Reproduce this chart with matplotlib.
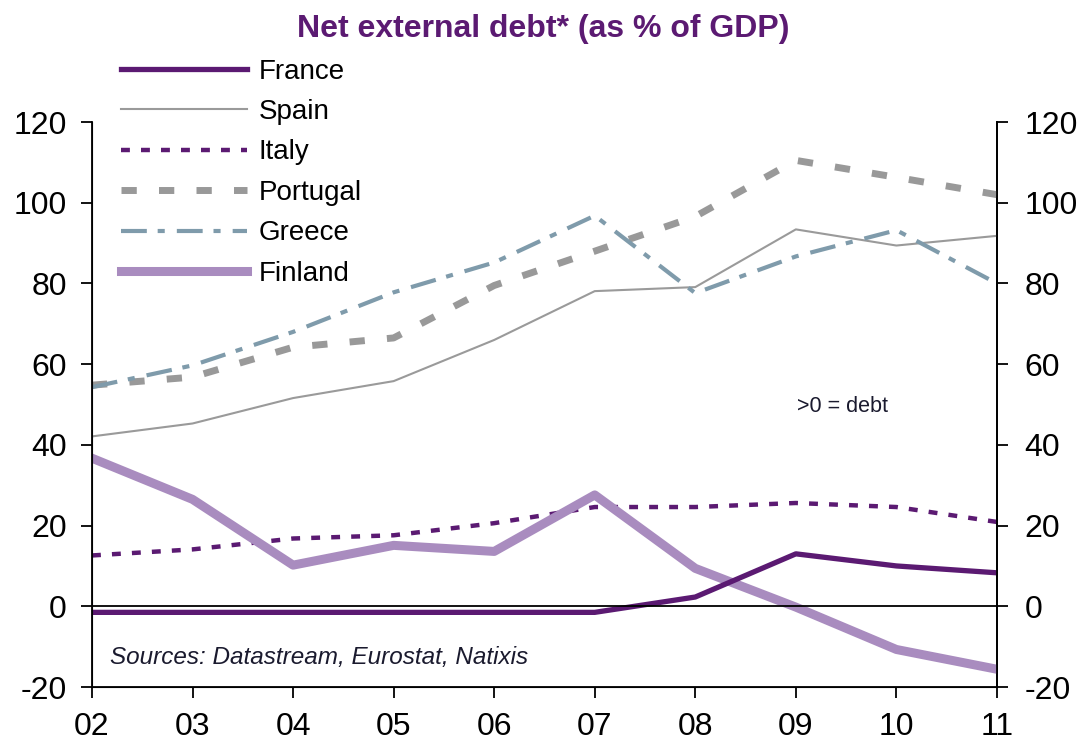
import matplotlib
matplotlib.use('Agg')
import matplotlib.pyplot as plt
import numpy as np

plt.rcParams['font.family'] = ['Liberation Sans', 'DejaVu Sans']
plt.rcParams['axes.unicode_minus'] = False

years = ['02', '03', '04', '05', '06', '07', '08', '09', '10', '11']

france = [-1.5, -1.5, -1.5, -1.5, -1.5, -1.5, 2.3, 13.0, 10.0, 8.3]
spain = [42.1, 45.3, 51.6, 55.8, 66.0, 78.1, 79.1, 93.4, 89.4, 91.8]
italy = [12.6, 14.1, 16.8, 17.6, 20.6, 24.6, 24.6, 25.6, 24.6, 20.9]
portugal = [54.8, 56.8, 64.2, 66.5, 79.5, 88.0, 96.6, 110.5, 106.3, 102.0]
greece = [54.3, 59.7, 68.0, 77.8, 85.2, 96.8, 77.6, 86.7, 93.2, 80.0]
finland = [36.7, 26.5, 10.2, 15.1, 13.6, 27.6, 9.4, -0.2, -10.7, -15.6]

purple = '#5b1a72'
x = np.arange(len(years))

fig = plt.figure(figsize=(10.86, 7.51), dpi=100)
ax = fig.add_axes([0.0847, 0.0852, 0.8333, 0.7523])

ax.plot(x, spain, color='#9a9a9a', lw=1.5, label='Spain', zorder=3)
ax.plot(x, portugal, color='#999999', lw=5, dashes=(2.2, 3.2), label='Portugal', zorder=3)
ax.plot(x, greece, color='#7f9bab', lw=3, dashes=(6.2, 2.6, 1.7, 2.9), label='Greece', zorder=3)
ax.plot(x, italy, color=purple, lw=3.2, dashes=(2.0, 2.5), label='Italy', zorder=3)
ax.plot(x, finland, color='#a98cbf', lw=6.5, label='Finland', zorder=4)
ax.plot(x, france, color=purple, lw=3.8, label='France', zorder=5)
ax.axhline(0, color='black', lw=1.3, zorder=6)

ax.set_xlim(0, len(years) - 1)
ax.set_ylim(-20, 120)
ax.set_yticks(range(-20, 121, 20))
ax.set_xticks(x)
ax.set_xticklabels(years)
ax.spines['top'].set_visible(False)
for s in ['left', 'right', 'bottom']:
    ax.spines[s].set_linewidth(1.3)
ax.tick_params(axis='both', direction='out', length=8, width=1.3, labelsize=23)
ax.tick_params(axis='x', pad=10)
ax.tick_params(axis='y', pad=10)

ax2 = ax.twinx()
ax2.set_ylim(-20, 120)
ax2.set_yticks(range(-20, 121, 20))
ax2.spines['top'].set_visible(False)
ax2.spines['right'].set_linewidth(1.3)
ax2.tick_params(axis='y', direction='out', length=8, width=1.3, labelsize=23, pad=12)

handles, labels = ax.get_legend_handles_labels()
order = ['France', 'Spain', 'Italy', 'Portugal', 'Greece', 'Finland']
hmap = dict(zip(labels, handles))
ax.legend([hmap[k] for k in order], order, loc='upper left',
          bbox_to_anchor=(0.111, 0.922), bbox_transform=fig.transFigure,
          frameon=False, fontsize=20, handlelength=4.57, handletextpad=0.4,
          labelspacing=0.52, borderpad=0, borderaxespad=0)

fig.text(0.5, 0.962, 'Net external debt* (as % of GDP)', ha='center', va='center',
         fontsize=23, fontweight='bold', color=purple)
ax.text(0.02, 0.053, 'Sources: Datastream, Eurostat, Natixis', transform=ax.transAxes,
        fontsize=17.5, style='italic', color='#1a1a2e', va='center', ha='left')
ax.text(0.779, 0.497, '>0 = debt', transform=ax.transAxes, fontsize=15.5,
        color='#1a1a2e', va='center', ha='left')

fig.savefig('out.png', dpi=100)
